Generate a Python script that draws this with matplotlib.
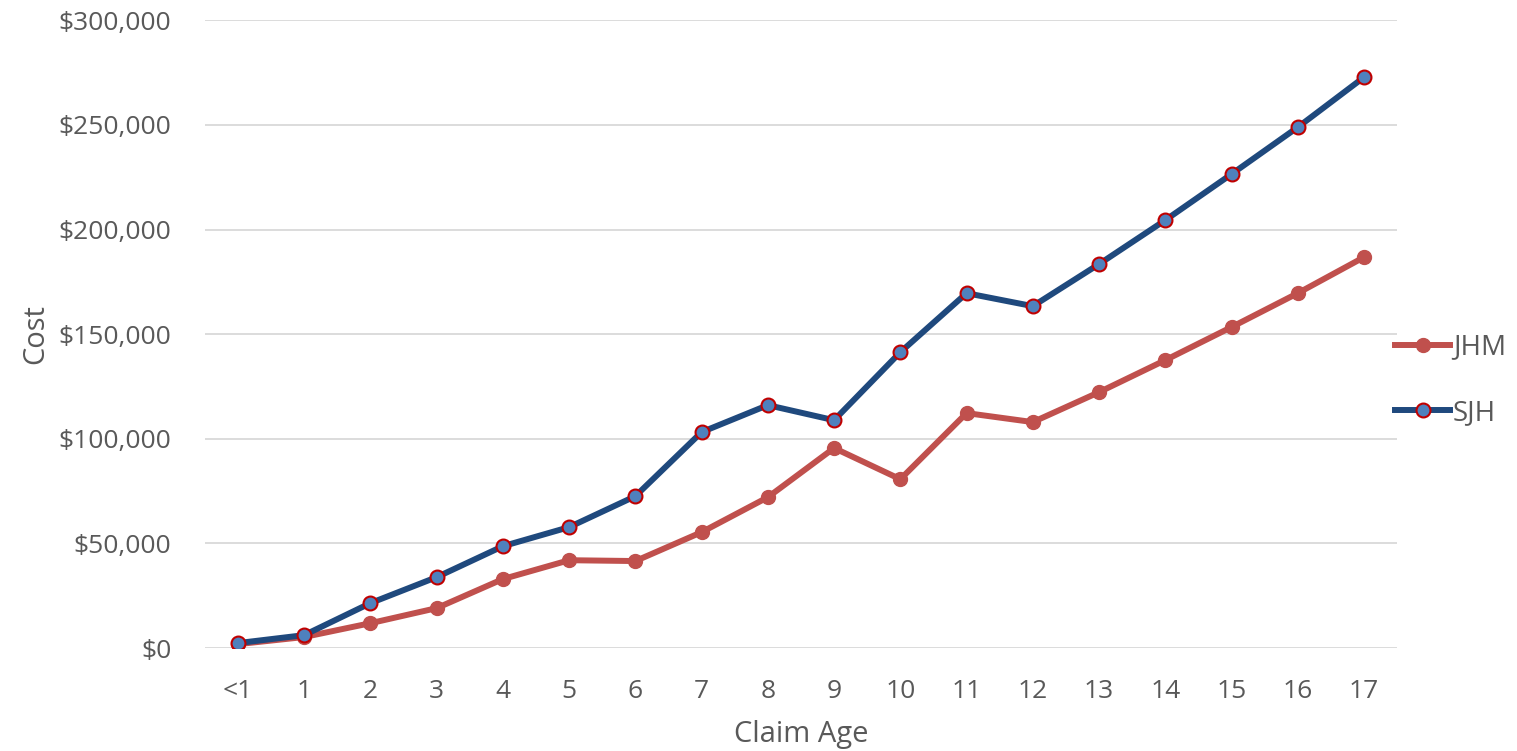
import matplotlib.pyplot as plt
from matplotlib.ticker import FuncFormatter

plt.rcParams['font.family'] = ['Open Sans', 'DejaVu Sans']

ages = ['<1', '1', '2', '3', '4', '5', '6', '7', '8', '9', '10', '11', '12', '13', '14', '15', '16', '17']
jhm = [1900, 5300, 11900, 19100, 33000, 42000, 41600, 55400, 72100, 95600, 80700,
       112300, 108000, 122300, 137600, 153400, 169600, 186800]
sjh = [2400, 6200, 21500, 33900, 48700, 57800, 72600, 103200, 116100, 108900, 141400,
       169600, 163400, 183500, 204500, 226500, 248900, 272800]

fig = plt.figure(figsize=(15.17, 7.51), dpi=100)
ax = fig.add_axes([0.135, 0.137, 0.786, 0.836])

x = range(len(ages))
ax.plot(x, jhm, color='#C0504D', lw=4.3, marker='o', ms=10, mfc='#C0504D', mec='#C0504D',
        label='JHM', zorder=3)
ax.plot(x, sjh, color='#1F497D', lw=4.3, marker='o', ms=10, mfc='#4F81BD', mec='#C00000',
        mew=1.5, label='SJH', zorder=4)

ax.set_xlim(-0.5, len(ages) - 0.5)
ax.set_ylim(0, 300000)
ax.set_yticks(range(0, 300001, 50000))
ax.yaxis.set_major_formatter(FuncFormatter(lambda v, p: '${:,.0f}'.format(v)))
ax.set_xticks(list(x))
ax.set_xticklabels(ages)
ax.grid(axis='y', color='#D9D9D9', lw=1.3)
ax.set_axisbelow(True)
for s in ax.spines.values():
    s.set_visible(False)
ax.tick_params(length=0, labelsize=19, colors='#595959')
ax.tick_params(axis='x', pad=22)
ax.tick_params(axis='y', pad=24)
ax.set_xlabel('Claim Age', fontsize=21, color='#595959', labelpad=12)
ax.set_ylabel('Cost', fontsize=21, color='#595959', labelpad=6)

ax.legend(loc='center left', bbox_to_anchor=(0.998, 0.427), frameon=False, fontsize=20,
          labelcolor='#595959', handlelength=2.0, handletextpad=0.1, labelspacing=1.35,
          borderpad=0, borderaxespad=0)

fig.savefig('out.png', dpi=100)
